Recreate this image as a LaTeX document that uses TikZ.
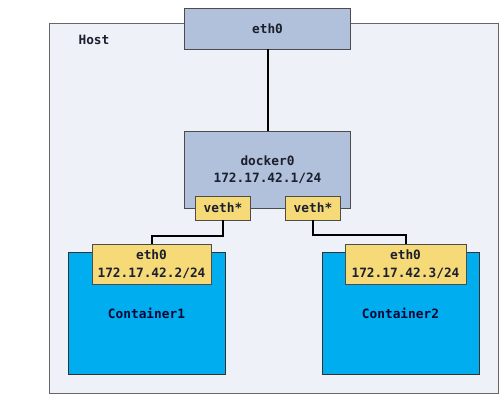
\documentclass[tikz,border=0pt]{standalone}
\usepackage{fontspec}
\setmonofont{DejaVu Sans Mono}
\usepackage{tikz}
\definecolor{hostbg}{HTML}{EEF1F7}
\definecolor{bridgeblue}{HTML}{B1C1DB}
\definecolor{vethyellow}{HTML}{F6DA78}
\definecolor{contblue}{HTML}{00AEEF}
\definecolor{inktext}{HTML}{1B1F2E}
\tikzstyle{hostbox} = [rectangle, minimum width=449pt, minimum height=370pt, draw=gray!80!black, fill=hostbg]
\tikzstyle{bridge} = [rectangle, minimum width=166pt, text centered, align=center, draw=black!70, fill=bridgeblue, text=inktext]
\tikzstyle{veth} = [rectangle, minimum width=55pt, minimum height=24pt, inner sep=0pt, text centered, draw=black!70, fill=vethyellow, text=inktext]
\tikzstyle{ceth} = [rectangle, minimum height=40pt, inner sep=0pt, text centered, align=center, draw=black!70, fill=vethyellow, text=inktext]
\tikzstyle{container} = [rectangle, minimum width=157pt, minimum height=122pt, draw=black!80, fill=contblue, text=inktext!60!blue!40!black]
\tikzstyle{link} = [line width=2pt, draw=black]

\begin{document}
\begin{tikzpicture}[x=1pt, y=-1pt, node distance=141pt, font=\ttfamily\bfseries\fontsize{12.8}{17.5}\selectfont]
\useasboundingbox (0,0) rectangle (504,400);
\node (host) [hostbox] at (273.5,208) {};
\node (hostlabel) [text=inktext] at (94,40) {Host};

\node (eth0) [bridge, minimum height=41pt] at (267.5,28.5) {eth0};
\node (docker0) [bridge, below of=eth0, minimum height=77pt] {docker0\\172.17.42.1/24};
\draw [link] (eth0) -- (docker0);

\node (vethA) [veth, below of=docker0, node distance=38.5pt, xshift=-44.5pt] {veth*};
\node (vethB) [veth, below of=docker0, node distance=38.5pt, xshift=45.5pt] {veth*};

\node (cont1) [container] at (146.5,313) {Container1};
\node (cont2) [container] at (400.5,313) {Container2};

\node (cethA) [ceth, above of=cont1, node distance=49pt, xshift=5pt, minimum width=119pt] {eth0\\172.17.42.2/24};
\node (cethB) [ceth, above of=cont2, node distance=49pt, xshift=5pt, minimum width=121pt] {eth0\\172.17.42.3/24};

\draw [link] (vethA.south) -- ++(0,16) -| (cethA.north);
\draw [link] (vethB.south) -- ++(0,15) -| (cethB.north);
\end{tikzpicture}
\end{document}
